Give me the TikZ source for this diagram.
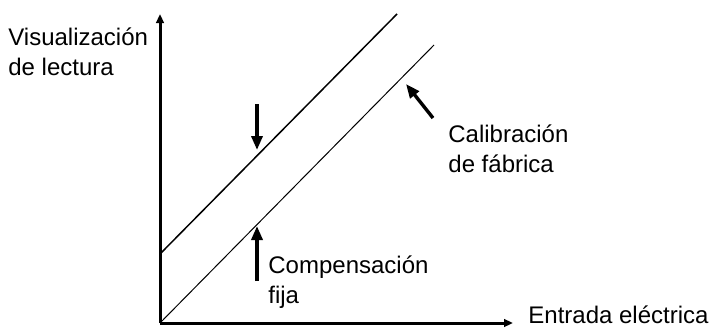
\documentclass[tikz,border=0pt]{standalone}
\usepackage{fontspec}
\setmainfont{Liberation Sans}
\usetikzlibrary{arrows.meta,positioning}
\begin{document}
\begin{tikzpicture}[x=0.5pt,y=-0.5pt,
  axis/.style={line width=1.5pt,-{Triangle[length=4.5pt,width=3.8pt]}},
  calline/.style={line width=0.5pt},
  pointer/.style={line width=1.7pt,-{Triangle[length=7pt,width=5.5pt]}},
  lbl/.style={align=left,inner sep=0pt,font=\fontsize{12}{14.6}\selectfont}]
\useasboundingbox (0,0) rectangle (711,332);
\coordinate (O) at (160,323);
\coordinate (ytip) at (160,14);
\coordinate (xtip) at (513,323);
\coordinate (offset) at (160,254);
\coordinate (upperend) at (397,14);
\coordinate (lowerend) at (434,45);
\draw[axis] (O) -- (ytip);
\draw[axis] (O) -- (xtip);
\draw[calline,line width=0.75pt] (offset) -- (upperend);
\draw[calline] (O) -- (lowerend);
\node[lbl,anchor=base west] (ylabel) at (8,75) {Visualización\\de lectura};
\node[lbl,anchor=base west] (xlabel) at (528,323) {Entrada eléctrica};
\node[lbl,anchor=base west] (calib) at (448,172) {Calibración\\de fábrica};
\node[lbl,anchor=base west] (comp) at (268,303) {Compensación\\fija};
\coordinate (downtail) at (257,104);
\coordinate (downtip) at (257,150);
\coordinate (uptail) at (257,281);
\coordinate (uptip) at (257,226);
\coordinate (caltail) at (433,118);
\coordinate (caltip) at (406,84);
\draw[pointer] (downtail) -- (downtip);
\draw[pointer] (uptail) -- (uptip);
\draw[pointer] (caltail) -- (caltip);
\end{tikzpicture}
\end{document}
